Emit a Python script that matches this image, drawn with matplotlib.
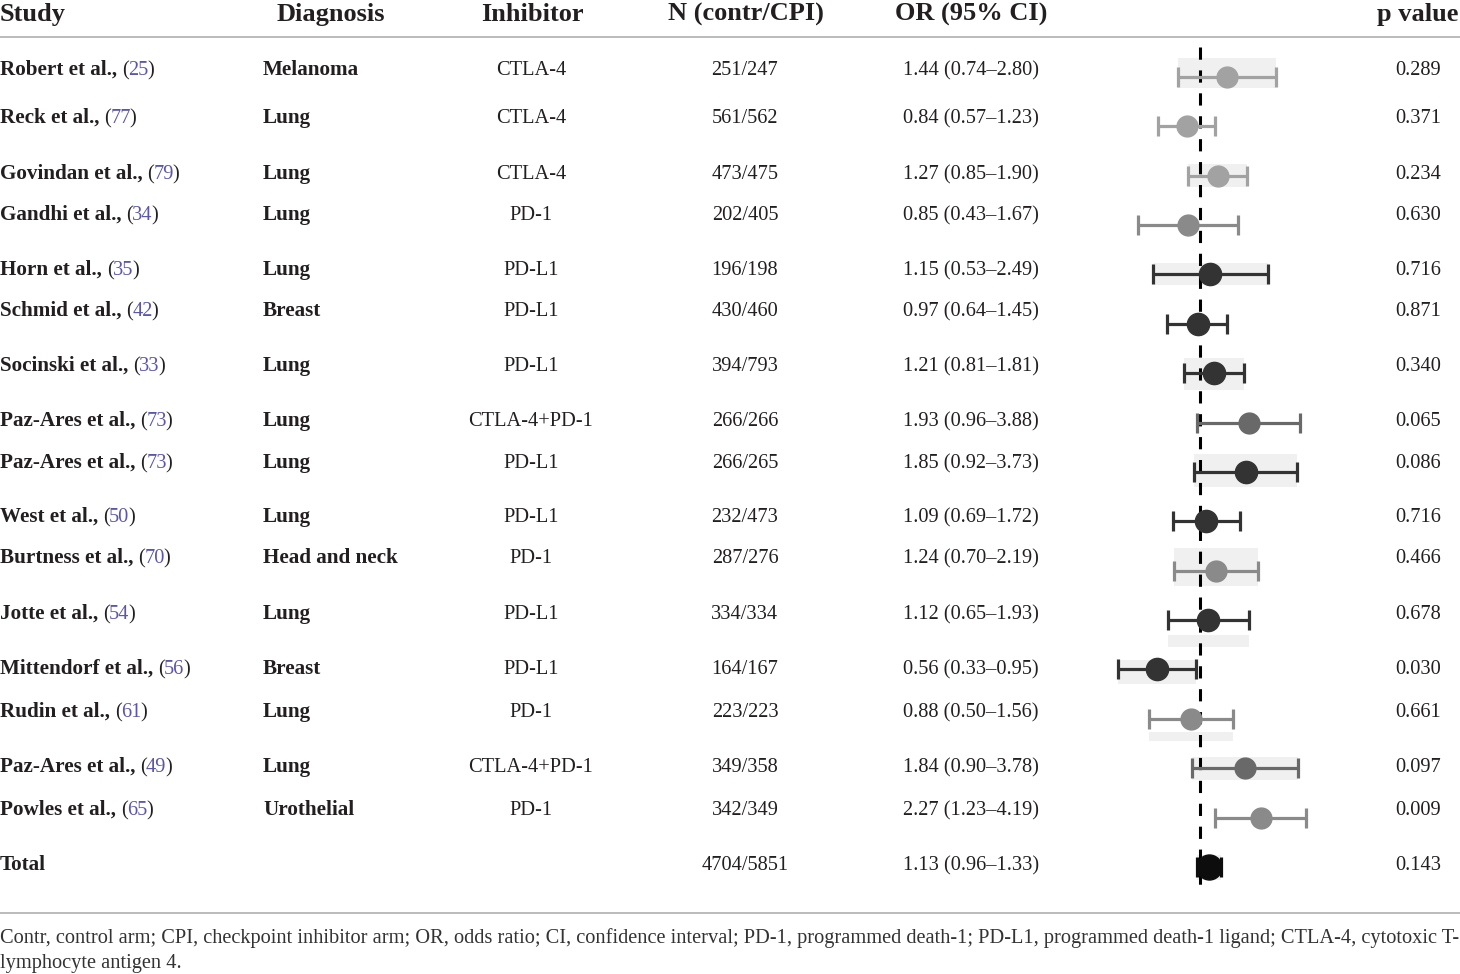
import numpy as np
import matplotlib.pyplot as plt

studies = ["Robert et al.,", "Reck et al.,", "Govindan et al.,", "Gandhi et al.,",
           "Horn et al.,", "Schmid et al.,", "Socinski et al.,", "Paz-Ares et al.,",
           "Paz-Ares et al.,", "West et al.,", "Burtness et al.,", "Jotte et al.,",
           "Mittendorf et al.,", "Rudin et al.,", "Paz-Ares et al.,", "Powles et al.,",
           "Total"]
refs = ["25", "77", "79", "34", "35", "42", "33", "73", "73", "50", "70", "54",
        "56", "61", "49", "65", ""]
diagnosis = ["Melanoma", "Lung", "Lung", "Lung", "Lung", "Breast", "Lung", "Lung",
             "Lung", "Lung", "Head and neck", "Lung", "Breast", "Lung", "Lung",
             "Urothelial", ""]
inhibitor = ["CTLA-4", "CTLA-4", "CTLA-4", "PD-1", "PD-L1", "PD-L1", "PD-L1",
             "CTLA-4+PD-1", "PD-L1", "PD-L1", "PD-1", "PD-L1", "PD-L1", "PD-1",
             "CTLA-4+PD-1", "PD-1", ""]
n_contr = [251, 561, 473, 202, 196, 430, 394, 266, 266, 232, 287, 334, 164, 223, 349, 342, 4704]
n_cpi = [247, 562, 475, 405, 198, 460, 793, 266, 265, 473, 276, 334, 167, 223, 358, 349, 5851]
odds = [1.44, 0.84, 1.27, 0.85, 1.15, 0.97, 1.21, 1.93, 1.85, 1.09, 1.24, 1.12,
        0.56, 0.88, 1.84, 2.27, 1.13]
ci_lo = [0.74, 0.57, 0.85, 0.43, 0.53, 0.64, 0.81, 0.96, 0.92, 0.69, 0.70, 0.65,
         0.33, 0.50, 0.90, 1.23, 0.96]
ci_hi = [2.80, 1.23, 1.90, 1.67, 2.49, 1.45, 1.81, 3.88, 3.73, 1.72, 2.19, 1.93,
         0.95, 1.56, 3.78, 4.19, 1.33]
p_vals = ["0.289", "0.371", "0.234", "0.630", "0.716", "0.871", "0.340", "0.065",
          "0.086", "0.716", "0.466", "0.678", "0.030", "0.661", "0.097", "0.009", "0.143"]

headers = ["Study", "Diagnosis", "Inhibitor", "N (contr/CPI)", "OR (95% CI)", "p value"]
footnote = ["Contr, control arm; CPI, checkpoint inhibitor arm; OR, odds ratio; CI, confidence "
            "interval; PD-1, programmed death-1; PD-L1, programmed death-1 ligand; CTLA-4, cytotoxic T-",
            "lymphocyte antigen 4."]

# styling
LIGHT, MID, MIDD, DARK, BLACK = "#a2a2a2", "#8a8a8a", "#696969", "#333333", "#0d0d0d"
point_colors = [LIGHT, LIGHT, LIGHT, MID, DARK, DARK, DARK, MIDD, DARK, DARK, MID, DARK,
                DARK, MID, MIDD, MID, BLACK]
# grey bands behind some rows: row -> (top, bottom) in row units
bands = {0: (-0.38, 0.22), 2: (-0.24, 0.22), 4: (-0.24, 0.22), 6: (-0.3, 0.34),
         8: (-0.36, 0.3), 10: (-0.45, 0.3), 11: (0.3, 0.55), 12: (-0.2, 0.3),
         13: (0.26, 0.45), 14: (-0.22, 0.24), 16: (-0.24, 0.26)}
row_y = [67, 115, 171, 212, 267, 308, 363, 418, 460, 514, 555, 611, 666, 709, 764, 807, 862]

plt.rcParams["font.family"] = ["Liberation Serif", "DejaVu Serif"]
TXT = "#231f20"
REF = "#5b56a8"
BODY = 14.7
BOLD = 15.2

fig = plt.figure(figsize=(14.6, 9.74), dpi=100)
tab = fig.add_axes([0, 0, 1, 1])
tab.set_xlim(0, 1460)
tab.set_ylim(974, 0)
tab.axis("off")
renderer = fig.canvas.get_renderer()

# header
hy = 21
tab.text(0, hy, headers[0], fontsize=19, fontweight="bold", color=TXT, va="baseline")
tab.text(331, hy, headers[1], fontsize=19, fontweight="bold", color=TXT, va="baseline", ha="center")
tab.text(532, hy, headers[2], fontsize=19, fontweight="bold", color=TXT, va="baseline", ha="center")
tab.text(746, hy, headers[3], fontsize=19, fontweight="bold", color=TXT, va="baseline", ha="center")
tab.text(971, hy, headers[4], fontsize=19, fontweight="bold", color=TXT, va="baseline", ha="center")
tab.text(1458, hy, headers[5], fontsize=19, fontweight="bold", color=TXT, va="baseline", ha="right")
tab.axhline(37, color="#b5b5b5", lw=1.3)
tab.axhline(913, color="#b5b5b5", lw=1.3)

for i, y in enumerate(row_y):
    yb = y + 8
    t = tab.text(0, yb, studies[i], fontsize=BOLD, fontweight="bold", color=TXT, va="baseline")
    if refs[i]:
        x = t.get_window_extent(renderer).x1 + 5
        for part, col in (("(", TXT), (refs[i], REF), (")", TXT)):
            p = tab.text(x, yb, part, fontsize=BODY, color=col, va="baseline")
            x = p.get_window_extent(renderer).x1 - 1
    tab.text(263, yb, diagnosis[i], fontsize=BOLD, fontweight="bold", color=TXT, va="baseline")
    tab.text(531, yb, inhibitor[i], fontsize=BODY, color=TXT, va="baseline", ha="center")
    tab.text(745, yb, f"{n_contr[i]}/{n_cpi[i]}", fontsize=BODY, color=TXT, va="baseline", ha="center")
    tab.text(971, yb, f"{odds[i]:.2f} ({ci_lo[i]:.2f}\u2013{ci_hi[i]:.2f})", fontsize=BODY,
             color=TXT, va="baseline", ha="center")
    tab.text(1441, yb, p_vals[i], fontsize=BODY, color=TXT, va="baseline", ha="right")

# footnote, sized to fill the width
fn = tab.text(0, 943, footnote[0], fontsize=13, color="#333333", va="baseline")
w = fn.get_window_extent(renderer).width
fs = 13 * 1457 / w
fn.set_fontsize(fs)
tab.text(0, 968, footnote[1], fontsize=fs, color="#333333", va="baseline")

# forest plot (log scale, OR = 1 at the dashed line)
fa = fig.add_axes([1100 / 1460, 1 - 900 / 974, 220 / 1460, 860 / 974])
fa.set_xscale("log")
fa.set_xlim(np.exp(-100 / 74), np.exp(120 / 74))
fa.set_ylim(16.67, -0.749)
fa.axis("off")

rows = np.arange(len(odds))
for r, (top, bot) in bands.items():
    fa.fill_between([ci_lo[r], ci_hi[r]], r + top, r + bot, color="#f0f0f0", lw=0, zorder=1)

fa.plot([1, 1], [-0.6, 16.5], color="black", lw=2.2, ls=(0, (4, 3.5)), zorder=2)

for i in rows:
    if i == len(odds) - 1:
        ms = 18
    elif point_colors[i] == DARK:
        ms = 16
    else:
        ms = 15
    fa.errorbar(odds[i], i, xerr=[[odds[i] - ci_lo[i]], [ci_hi[i] - odds[i]]], fmt="o",
                color=point_colors[i], ms=ms, elinewidth=2.3, capsize=7, capthick=2.3, zorder=3)

plt.savefig("out.png", dpi=100)
